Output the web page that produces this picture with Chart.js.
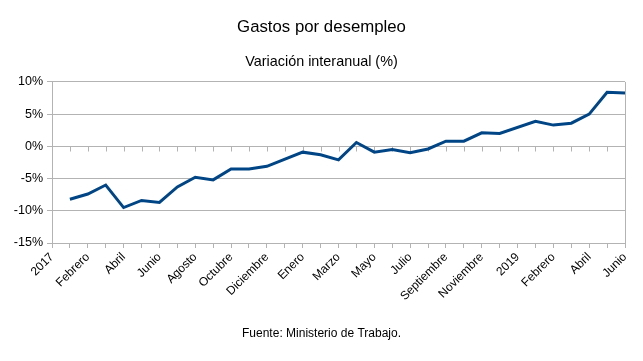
<!DOCTYPE html>
<html>
<head>
<meta charset="utf-8">
<script src="https://cdn.jsdelivr.net/npm/chart.js@4/dist/chart.umd.min.js"></script>
<style>
  html, body { margin: 0; padding: 0; background: #fff; }
  #wrap { width: 643px; height: 361px; }
</style>
</head>
<body>
<div id="wrap"><canvas id="myLineChart"></canvas></div>
<script>
// categories as they appear in the sheet: a year row, then its months
var categories = [
    "2017", "Enero", "Febrero", "Marzo", "Abril", "Mayo", "Junio", "Julio", "Agosto", "Septiembre", "Octubre", "Noviembre", "Diciembre",
    "2018", "Enero", "Febrero", "Marzo", "Abril", "Mayo", "Junio", "Julio", "Agosto", "Septiembre", "Octubre", "Noviembre", "Diciembre",
    "2019", "Enero", "Febrero", "Marzo", "Abril", "Mayo", "Junio"
];

// year rows carry no value (null), the line just continues over them
var variacion = [
    null, -8.2, -7.4, -6.0, -9.5, -8.4, -8.7, -6.3, -4.8, -5.2, -3.5, -3.5, -3.1,
    null, -0.9, -1.3, -2.1, 0.6, -0.9, -0.5, -1.0, -0.4, 0.8, 0.8, 2.1, 2.0,
    null, 3.9, 3.3, 3.6, 5.0, 8.4, 8.3
];

var yTicks = { min: -15, max: 10, step: 5 };

var chartTitle = "Gastos por desempleo";
var chartSubtitle = "Variación interanual (%)";
var chartSource = "Fuente: Ministerio de Trabajo.";

var gridColor = '#b3b3b3';
var font = "'Liberation Sans', Arial, sans-serif";

// little tick marks hanging under the 0% line
var zeroLineTicks = {
    id: 'zeroLineTicks',
    beforeDatasetsDraw: function(chart) {
        var xs = chart.scales.x, ys = chart.scales.y, c = chart.ctx;
        var y0 = Math.round(ys.getPixelForValue(0)) + 0.5;
        c.save();
        c.strokeStyle = gridColor;
        c.lineWidth = 1;
        c.beginPath();
        xs.ticks.forEach(function(t, i) {
            var px = Math.round(xs.getPixelForTick(i)) + 0.5;
            c.moveTo(px, y0);
            c.lineTo(px, y0 + 5);
        });
        c.stroke();
        c.restore();
    }
};

// source line under the chart
var sourceNote = {
    id: 'sourceNote',
    afterDraw: function(chart) {
        var c = chart.ctx;
        c.save();
        c.font = "12px " + font;
        c.fillStyle = '#000';
        c.textAlign = 'center';
        c.textBaseline = 'middle';
        c.fillText(chartSource, chart.width / 2, 334);
        c.restore();
    }
};

var ctx = document.getElementById('myLineChart').getContext('2d');
var last = categories.length - 1;

var myLineChart = new Chart(ctx, {
    type: 'line',
    data: {
        labels: categories,
        datasets: [{
            label: chartSubtitle,
            data: variacion,
            borderColor: '#004586',
            backgroundColor: '#004586',
            borderWidth: 3,
            pointRadius: 0,
            tension: 0,
            spanGaps: true
        }]
    },
    options: {
        responsive: true,
        maintainAspectRatio: false,
        animation: false,
        layout: {
            padding: { top: 0, right: 0, bottom: 48, left: 0 }
        },
        scales: {
            x: {
                offset: false,
                grid: {
                    // only the right edge of the plot gets a full line
                    color: function(c) { return c.index === last ? gridColor : 'rgba(0,0,0,0)'; },
                    tickColor: gridColor,
                    tickLength: 5,
                    drawTicks: true
                },
                border: { display: false },
                ticks: {
                    autoSkip: false,
                    maxRotation: 45,
                    minRotation: 45,
                    padding: 2,
                    color: '#000',
                    font: { family: font, size: 12 },
                    callback: function(val, i) {
                        return i % 2 === 0 ? this.getLabelForValue(val) : '';
                    }
                },
                afterFit: function(scale) {
                    scale.height = 70;
                    scale.paddingRight = 18; // keeps titles centred on the full width
                }
            },
            y: {
                min: yTicks.min,
                max: yTicks.max,
                grid: { color: gridColor, tickLength: 5 },
                border: { display: true, color: gridColor },
                ticks: {
                    stepSize: yTicks.step,
                    padding: 4,
                    color: '#000',
                    font: { family: font, size: 12.5 },
                    callback: function(v) { return v + '%'; }
                },
                afterFit: function(scale) { scale.width = 52; }
            }
        },
        plugins: {
            legend: { display: false },
            tooltip: { enabled: false },
            title: {
                display: true,
                text: chartTitle,
                color: '#000',
                font: { family: font, size: 16.8, weight: 'normal' },
                padding: { top: 17, bottom: 16 }
            },
            subtitle: {
                display: true,
                text: chartSubtitle,
                color: '#000',
                font: { family: font, size: 14.4, weight: 'normal' },
                padding: { top: 0, bottom: 11.5 }
            }
        }
    },
    plugins: [zeroLineTicks, sourceNote]
});
</script>
</body>
</html>
